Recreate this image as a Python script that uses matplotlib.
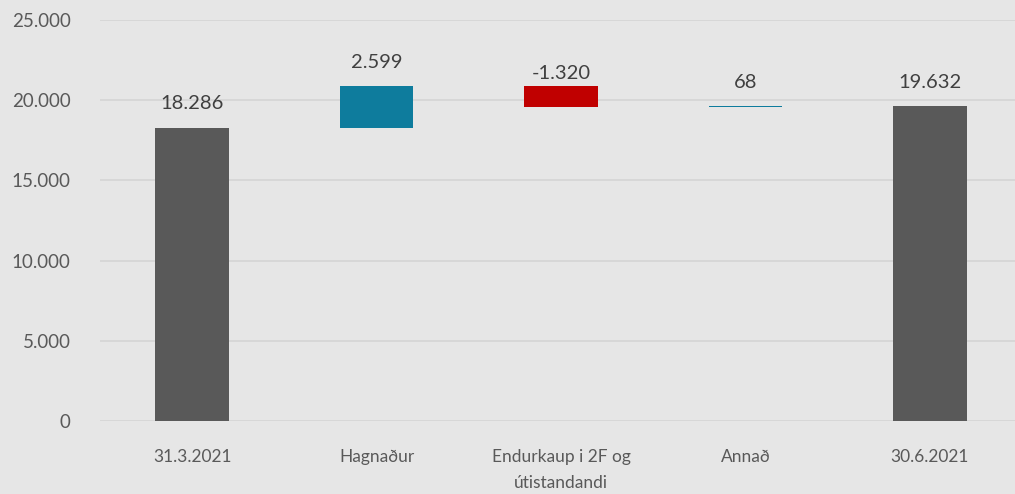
import matplotlib
matplotlib.use("Agg")
import matplotlib.pyplot as plt
import numpy as np

categories = ["31.3.2021", "Hagnaður", "Endurkaup i 2F og\nútistandandi", "Annað", "30.6.2021"]
values = [18286, 2599, -1320, 68, 19632]
kinds = ["total", "delta", "delta", "delta", "total"]
labels = ["18.286", "2.599", "-1.320", "68", "19.632"]
yticks = [0, 5000, 10000, 15000, 20000, 25000]
ytick_labels = ["0", "5.000", "10.000", "15.000", "20.000", "25.000"]

bg = "#E6E6E6"
fig = plt.figure(figsize=(10.15, 4.94), dpi=100, facecolor=bg)
ax = fig.add_axes([0.0985, 0.1478, 0.9084, 0.8117], facecolor=bg)

bottoms, heights, colors = [], [], []
running = 0
for v, k in zip(values, kinds):
    if k == "total":
        bottoms.append(0)
        heights.append(v)
        colors.append("#595959")
        running = v
    else:
        if v >= 0:
            bottoms.append(running)
            heights.append(v)
            colors.append("#0E7C9D")
        else:
            bottoms.append(running + v)
            heights.append(-v)
            colors.append("#C00000")
        running += v

x = np.arange(len(categories))
ax.bar(x, heights, bottom=bottoms, width=0.40, color=colors, zorder=3)

offsets = [24, 24, 13, 24, 24]
for i in range(len(x)):
    top = bottoms[i] + heights[i]
    ax.annotate(labels[i], (x[i], top), xytext=(0, offsets[i]), textcoords="offset pixels",
                ha="center", va="center", fontsize=14.5, color="#404040", family="Lato")

ax.set_xlim(-0.5, len(categories) - 0.5)
ax.set_ylim(0, 25000)
ax.set_yticks(yticks)
ax.set_yticklabels(ytick_labels, family="Lato", fontsize=13.5, color="#595959")
ax.set_xticks(x)
ax.set_xticklabels(categories, fontsize=12.5, color="#595959", family="Lato", linespacing=1.75)
ax.tick_params(axis="y", length=0, pad=21)
ax.tick_params(axis="x", length=0, pad=20)
ax.grid(axis="y", color="#D6D6D6", linewidth=1.3, zorder=0)
for s in ax.spines.values():
    s.set_visible(False)

fig.savefig("out.png", dpi=100, facecolor=bg)
